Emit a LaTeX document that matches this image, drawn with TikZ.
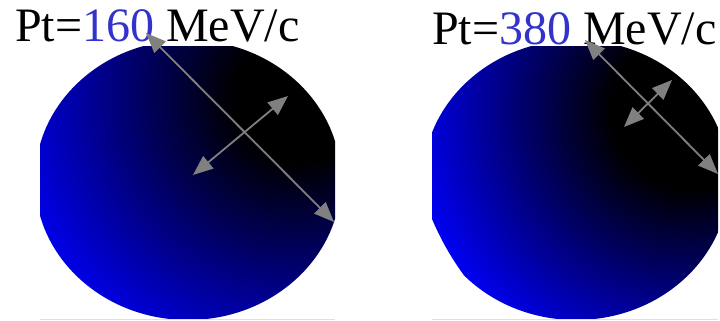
\documentclass[tikz,border=0pt]{standalone}
\usepackage{fontspec}
\setmainfont{Liberation Serif}
\usetikzlibrary{arrows.meta}
\definecolor{ptblue}{HTML}{3333CC}
\definecolor{arrowgray}{HTML}{808080}
\definecolor{rulegray}{HTML}{E0E0E0}
\pgfdeclareradialshading{discshadeA}{\pgfpointorigin}{%
  color(0bp)=(black); color(5.5bp)=(black); color(26bp)=(blue); color(50bp)=(blue)}
\pgfdeclareradialshading{discshadeB}{\pgfpointorigin}{%
  color(0bp)=(black); color(7bp)=(black); color(26bp)=(blue); color(50bp)=(blue)}

\begin{document}
\begin{tikzpicture}[
    x=1pt, y=-1pt,
    % Text styles
    pt label/.style={
        anchor=base west,
        inner sep=0pt,
        font=\fontsize{48}{52}\selectfont,
        text=black
    },
    % Arrow styles
    axis arrow/.style={
        draw=arrowgray,
        line width=1.8pt,
        {Triangle[length=20pt,width=16pt]}-{Triangle[length=20pt,width=16pt]}
    },
    base rule/.style={
        draw=rulegray,
        line width=1pt
    }
]
\useasboundingbox (0,0) rectangle (720,321);

% Disc geometry
\def\rx{153pt}
\def\ry{140pt}

% Left disc (Pt = 160)
\begin{scope}
    \clip (40,47) rectangle (335,318);
    \clip (188,180) ellipse [x radius=\rx, y radius=\ry];
    \shade[shading=discshadeA] (300,95) circle (300pt);
\end{scope}
\draw[base rule] (40,319) -- (335,319);

% Right disc (Pt = 380)
\begin{scope}
    \clip (432,47) rectangle (718,318);
    \clip (576,180) ellipse [x radius=\rx, y radius=\ry];
    \shade[shading=discshadeB] (690,110) circle (280pt);
\end{scope}
\draw[base rule] (432,319) -- (718,319);

% Labels
\node[pt label] (pt-160) at (15,42) {Pt=\textcolor{ptblue}{160} MeV/c};
\node[pt label] (pt-380) at (432,45) {Pt=\textcolor{ptblue}{380} MeV/c};

% Arrow end points
\coordinate (L-top) at (146,33);
\coordinate (L-bot) at (334,222);
\coordinate (L-in)  at (193,175);
\coordinate (L-out) at (288,96);
\coordinate (R-top) at (585,40);
\coordinate (R-bot) at (718,174);
\coordinate (R-in)  at (624,127);
\coordinate (R-out) at (672,80);

% Arrows
\draw[axis arrow] (L-top) -- (L-bot);
\draw[axis arrow] (L-in) -- (L-out);
\draw[axis arrow] (R-top) -- (R-bot);
\draw[axis arrow] (R-in) -- (R-out);

\end{tikzpicture}
\end{document}
